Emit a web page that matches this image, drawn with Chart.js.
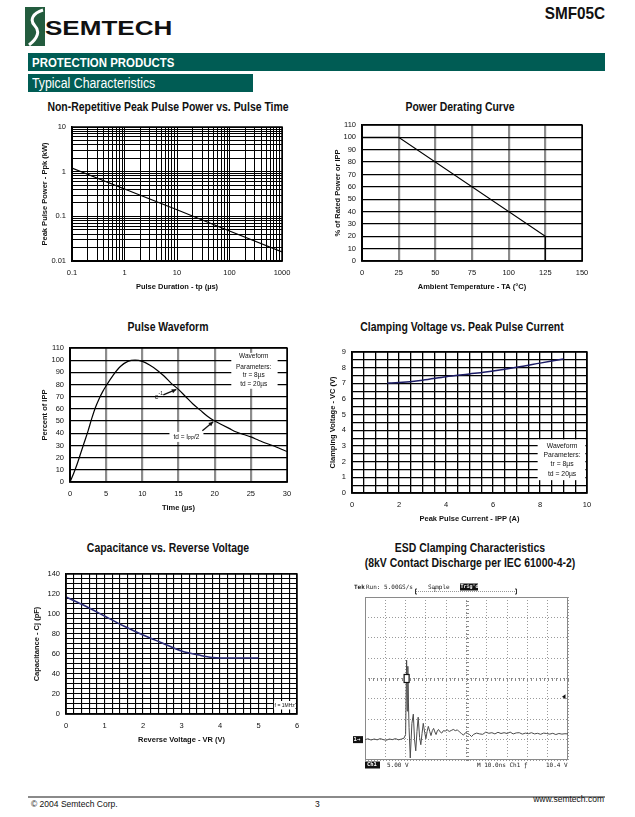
<!DOCTYPE html>
<html>
<head>
<meta charset="utf-8">
<title>SMF05C Typical Characteristics</title>
<script src="https://cdn.jsdelivr.net/npm/chart.js@4.4.1/dist/chart.umd.min.js"></script>
<style>
  body { margin: 0; background: #fff; }
  #page { position: relative; width: 635px; height: 817px; overflow: hidden; font-family: "Liberation Sans", Arial, sans-serif; color: #111; }
  #page canvas { position: absolute; }
  .t { position: absolute; white-space: nowrap; }
  .ctitle { position: absolute; white-space: nowrap; transform: translate(-50%, -50%) scaleX(0.87); font: bold 12px "Liberation Sans", Arial, sans-serif; color: #111; }
  .bar { position: absolute; background: #005c54; color: #fff; white-space: nowrap; }
  .bar span { position: absolute; transform-origin: left center; transform: scaleX(0.88); font-family: "Liberation Sans", Arial, sans-serif; }
</style>
</head>
<body>
<div id="page">
  <svg class="t" style="left:25px;top:7px" width="20" height="39" viewBox="0 0 20 39">
    <rect width="20" height="39" fill="#235c3e"/>
    <path d="M18 3 C8 6 4 13 10 19 C15 24 13 31 4 38" stroke="#fff" stroke-width="3" fill="none"/>
  </svg>
  <div class="t" style="left:45px;top:16px;font:bold 21px 'Liberation Sans',Arial;transform:scaleX(1.24);transform-origin:left top;">SEMTECH</div>
  <div class="t" style="right:30px;top:4px;font:bold 17px 'Liberation Sans',Arial;transform:scaleX(0.9);transform-origin:right top;">SMF05C</div>
  <div class="bar" style="left:28px;top:53px;width:577px;height:18px;"><span style="left:4px;top:2px;font-weight:bold;font-size:13px;">PROTECTION PRODUCTS</span></div>
  <div class="bar" style="left:28px;top:74px;width:225px;height:18px;"><span style="left:4px;top:1px;font-size:14px;">Typical Characteristics</span></div>

  <div class="ctitle" style="left:168px;top:107px">Non-Repetitive Peak Pulse Power vs. Pulse Time</div>
  <div class="ctitle" style="left:460px;top:107px">Power Derating Curve</div>
  <div class="ctitle" style="left:168px;top:327px">Pulse Waveform</div>
  <div class="ctitle" style="left:462px;top:327px">Clamping Voltage vs. Peak Pulse Current</div>
  <div class="ctitle" style="left:168px;top:548px">Capacitance vs. Reverse Voltage</div>
  <div class="ctitle" style="left:470px;top:548px">ESD Clamping Characteristics</div>
  <div class="ctitle" style="left:470px;top:563px">(8kV Contact Discharge per IEC 61000-4-2)</div>

  <canvas id="power"></canvas>
  <canvas id="derate"></canvas>
  <canvas id="pulse"></canvas>
  <canvas id="clamp"></canvas>
  <canvas id="cap"></canvas>
  <canvas id="esd"></canvas>

  <div style="position:absolute;left:28px;top:796px;width:577px;height:2px;background:#8a8a8a"></div>
  <div class="t" style="left:31px;top:799px;font-size:8.5px">© 2004 Semtech Corp.</div>
  <div class="t" style="left:315px;top:799px;font-size:8.5px">3</div>
  <div class="t" style="right:31px;top:794px;font-size:8.5px">www.semtech.com</div>
</div>
<script>
// Non-repetitive peak pulse power vs pulse time
const powerDuration = [0.1, 1, 10, 100, 1000];
const powerPeak = [1.2, 0.41, 0.14, 0.047, 0.016];
const powerXLabels = [0.1, 1, 10, 100, 1000];
const powerYLabels = [0.01, 0.1, 1, 10];

// Power derating curve
const derateTemp = [0, 25, 125, 125];
const deratePct = [100, 100, 20, 0];
const derateXLabels = [0, 25, 50, 75, 100, 125, 150];
const derateYLabels = [0, 10, 20, 30, 40, 50, 60, 70, 80, 90, 100, 110];

// Pulse waveform
const pulseTime = [0, 0.5, 1, 1.5, 2, 2.5, 3, 3.5, 4, 4.5, 5, 6, 7, 8, 9, 10, 11, 12, 13, 14, 15, 16, 17, 18, 19, 20, 21, 22, 23, 24, 25, 26, 27, 28, 29, 30];
const pulsePct = [0, 7, 15, 24, 33, 42, 52, 61, 68, 74, 79, 88, 95, 99, 100, 99, 96, 92, 87, 81, 76, 70, 64, 59, 54, 50, 47, 44, 41, 39, 37, 34.5, 32, 30, 27.5, 25];
const pulseXLabels = [0, 5, 10, 15, 20, 25, 30];
const pulseYLabels = [0, 10, 20, 30, 40, 50, 60, 70, 80, 90, 100, 110];

// Clamping voltage vs peak pulse current
const clampCurrent = [1.5, 2, 3, 4, 5, 6, 7, 8, 9];
const clampVolt = [7.02, 7.05, 7.2, 7.42, 7.6, 7.79, 8.02, 8.29, 8.56];
const clampXLabels = [0, 2, 4, 6, 8, 10];
const clampYLabels = [0, 1, 2, 3, 4, 5, 6, 7, 8, 9];

// Capacitance vs reverse voltage
const capVolt = [0, 0.5, 1, 1.5, 2, 2.5, 3, 3.5, 3.8, 4, 4.5, 5];
const capPF = [117, 108, 98, 88, 79, 71, 63, 58.5, 56.5, 56, 56, 56];
const capXLabels = [0, 1, 2, 3, 4, 5, 6];
const capYLabels = [0, 20, 40, 60, 80, 100, 120, 140];

// ESD scope trace (divisions)
const esdTime = [0, 0.15, 0.3, 0.45, 0.6, 0.75, 0.9, 1.05, 1.2, 1.35, 1.5, 1.65, 1.8, 1.92, 2.0, 2.05, 2.08, 2.11, 2.14, 2.17, 2.23, 2.31, 2.38, 2.44, 2.5, 2.56, 2.62, 2.69, 2.75, 2.81, 2.87, 2.94, 3.0, 3.06, 3.12, 3.19, 3.25, 3.32, 3.38, 3.44, 3.5, 3.56, 3.62, 3.7, 3.78, 3.86, 3.95, 4.05, 4.15, 4.25, 4.35, 4.45, 4.55, 4.65, 4.75, 4.85, 4.95, 5.05, 5.15, 5.25, 5.35, 5.5, 5.65, 5.8, 5.95, 6.1, 6.25, 6.4, 6.55, 6.7, 6.85, 7.0, 7.15, 7.3, 7.45, 7.6, 7.75, 7.9, 8.05, 8.2, 8.35, 8.5, 8.65, 8.8, 8.95, 9.1, 9.25, 9.4, 9.55, 9.7, 9.85, 10];
const esdLevel = [-3.0, -2.96, -3.02, -2.97, -3.01, -2.95, -3.0, -3.03, -2.97, -3.0, -2.95, -3.01, -2.97, -2.93, -2.75, 0.9, -1.6, 0.6, -1.2, -2.4, -3.9, -2.2, -1.75, -3.0, -3.55, -2.6, -1.9, -2.9, -3.25, -2.7, -2.2, -2.65, -2.95, -2.6, -2.35, -2.6, -2.8, -2.55, -2.45, -2.62, -2.75, -2.58, -2.5, -2.62, -2.68, -2.56, -2.58, -2.52, -2.6, -2.55, -2.5, -2.56, -2.52, -2.62, -2.7, -2.78, -2.66, -2.7, -2.75, -2.85, -2.74, -2.68, -2.72, -2.74, -2.63, -2.69, -2.66, -2.72, -2.64, -2.7, -2.66, -2.7, -2.63, -2.72, -2.67, -2.66, -2.73, -2.68, -2.71, -2.66, -2.72, -2.69, -2.74, -2.68, -2.7, -2.73, -2.69, -2.75, -2.7, -2.73, -2.71, -2.72];

const sans = "'Liberation Sans', Arial, sans-serif";
const tickFont = { family: sans, size: 7.5 };
const axisFont = { family: sans, size: 7.5, weight: 'bold' };

function xy(xs, ys) {
    return xs.map((x, i) => ({ x: x, y: ys[i] }));
}

function steps(lo, hi, step) {
    const out = [];
    const n = Math.round((hi - lo) / step);
    for (let i = 0; i <= n; i++) out.push(Math.round((lo + i * step) * 1000) / 1000);
    return out;
}

function logSteps(lo, hi) {
    const out = [];
    for (let e = Math.round(Math.log10(lo)); Math.pow(10, e) < hi; e++) {
        for (let m = 1; m < 10; m++) out.push(+(m * Math.pow(10, e)).toPrecision(3));
    }
    out.push(hi);
    return out;
}

// canvas placed so that its plot area lands on plot = [left, top, right, bottom]
function frame(id, plot, yWidth, xHeight, padTop, padRight) {
    padTop = padTop || 8;
    padRight = padRight || 14;
    const left = plot[0] - yWidth, top = plot[1] - padTop;
    const c = document.getElementById(id);
    c.width = plot[2] + padRight - left;
    c.height = plot[3] + xHeight - top;
    c.style.left = left + 'px';
    c.style.top = top + 'px';
    return { canvas: c, padding: { left: 0, top: padTop, right: padRight, bottom: 0 }, yWidth: yWidth, xHeight: xHeight };
}

function axis(f, isX, o) {
    return {
        type: o.type || 'linear',
        min: o.min,
        max: o.max,
        afterBuildTicks: s => { s.ticks = o.grid.map(v => ({ value: v })); },
        afterFit: s => {
            if (isX) s.height = f.xHeight; else s.width = f.yWidth;
            s.paddingLeft = s.paddingRight = s.paddingTop = s.paddingBottom = 0;
        },
        ticks: {
            display: !!o.labels,
            autoSkip: false,
            maxRotation: 0,
            padding: isX ? 7.5 : 6,
            font: tickFont,
            color: '#111',
            callback: v => (o.labels && o.labels.includes(v)) ? String(v) : ''
        },
        grid: { drawTicks: false, color: o.gridColor || '#000', lineWidth: o.gridWidth || 1 },
        border: o.border || { color: '#000', width: 1.5 },
        title: o.title ? {
            display: true, text: o.title, font: axisFont, color: '#111',
            padding: isX ? { top: 0, bottom: 2.8 } : { top: 2.8, bottom: 0 }
        } : { display: false }
    };
}

function options(f, xScale, yScale) {
    return {
        responsive: false,
        animation: false,
        events: [],
        layout: { padding: f.padding, autoPadding: false },
        plugins: { legend: { display: false }, tooltip: { enabled: false } },
        scales: { x: xScale, y: yScale }
    };
}

function line(points, color, width, smooth) {
    return {
        data: points,
        borderColor: color,
        borderWidth: width,
        pointRadius: 0,
        fill: false,
        cubicInterpolationMode: smooth ? 'monotone' : 'default',
        tension: 0
    };
}

const boxFrame = {
    id: 'boxFrame',
    afterDatasetsDraw(chart) {
        const { ctx, chartArea: a } = chart;
        ctx.save();
        ctx.strokeStyle = '#000';
        ctx.lineWidth = 1.5;
        ctx.strokeRect(a.left, a.top, a.right - a.left, a.bottom - a.top);
        ctx.restore();
    }
};

function arrow(ctx, x1, y1, x2, y2) {
    ctx.beginPath();
    ctx.moveTo(x1, y1);
    ctx.lineTo(x2, y2);
    ctx.lineWidth = 1.3;
    ctx.stroke();
    const a = Math.atan2(y2 - y1, x2 - x1), L = 5;
    ctx.beginPath();
    ctx.moveTo(x2, y2);
    ctx.lineTo(x2 - L * Math.cos(a - 0.45), y2 - L * Math.sin(a - 0.45));
    ctx.lineTo(x2 - L * Math.cos(a + 0.45), y2 - L * Math.sin(a + 0.45));
    ctx.closePath();
    ctx.fill();
}

// white note box with centred lines, positions given in data units
function noteBox(chart, box, cx, rows, size) {
    const { ctx, scales: { x, y } } = chart;
    const x0 = x.getPixelForValue(box[0]), x1 = x.getPixelForValue(box[1]);
    const y0 = y.getPixelForValue(box[2]), y1 = y.getPixelForValue(box[3]);
    ctx.save();
    ctx.fillStyle = '#fff';
    ctx.fillRect(x0, y0, x1 - x0, y1 - y0);
    ctx.fillStyle = '#111';
    ctx.font = size + "px " + sans;
    ctx.textAlign = 'center';
    ctx.textBaseline = 'middle';
    rows.forEach(r => ctx.fillText(r[0], x.getPixelForValue(cx), y.getPixelForValue(r[1])));
    ctx.restore();
}

const gridGray = ctx => (ctx.tick && ctx.index > 0 && ctx.index < ctx.scale.ticks.length - 1) ? '#8c8c8c' : '#000';
const gridGrayWidth = ctx => (ctx.tick && ctx.index > 0 && ctx.index < ctx.scale.ticks.length - 1) ? 2.2 : 1;

// 1. peak pulse power
(function () {
    const f = frame('power', [72, 127, 282, 261], 34, 33);
    new Chart(f.canvas, {
        type: 'line',
        data: { datasets: [line(xy(powerDuration, powerPeak), '#000', 1.2)] },
        options: options(f,
            axis(f, true, { type: 'logarithmic', min: 0.1, max: 1000, grid: logSteps(0.1, 1000), labels: powerXLabels, title: 'Pulse Duration - tp (µs)' }),
            axis(f, false, { type: 'logarithmic', min: 0.01, max: 10, grid: logSteps(0.01, 10), labels: powerYLabels, title: 'Peak Pulse Power - Ppk (kW)' })),
        plugins: [boxFrame]
    });
})();

// 2. power derating
(function () {
    const f = frame('derate', [362, 125, 582, 261], 31, 33);
    new Chart(f.canvas, {
        type: 'line',
        data: { datasets: [line(xy(derateTemp, deratePct), '#000', 1.2)] },
        options: options(f,
            axis(f, true, { min: 0, max: 150, grid: steps(0, 150, 25), labels: derateXLabels, title: 'Ambient Temperature - TA (°C)', gridColor: gridGray, gridWidth: gridGrayWidth }),
            axis(f, false, { min: 0, max: 110, grid: steps(0, 110, 10), labels: derateYLabels, title: '% of Rated Power or IPP', gridWidth: 1.3 })),
        plugins: [boxFrame]
    });
})();

// 3. pulse waveform
(function () {
    const f = frame('pulse', [70, 348, 287, 482], 32, 33);
    const notes = {
        id: 'pulseNotes',
        afterDatasetsDraw(chart) {
            noteBox(chart, [22.3, 28.7, 106, 76.5], 25.4,
                [['Waveform', 103], ['Parameters:', 94.5], ['tr = 8µs', 87.3], ['td = 20µs', 80]], 6.5);
            const { ctx, scales: { x, y } } = chart;
            ctx.save();
            ctx.fillStyle = '#111';
            ctx.strokeStyle = '#111';
            ctx.font = "7px " + sans;
            ctx.textBaseline = 'middle';
            ctx.textAlign = 'center';
            ctx.fillText('e', x.getPixelForValue(12.0), y.getPixelForValue(69.5));
            ctx.font = "5px " + sans;
            ctx.fillText('-1', x.getPixelForValue(12.55), y.getPixelForValue(72.5));
            arrow(ctx, x.getPixelForValue(12.9), y.getPixelForValue(71.5), x.getPixelForValue(14.7), y.getPixelForValue(76));
            // td label with white background
            const tx = x.getPixelForValue(16.1), ty = y.getPixelForValue(37);
            ctx.fillStyle = '#fff';
            ctx.fillRect(tx - 17, ty - 5, 34, 10);
            ctx.fillStyle = '#111';
            ctx.textAlign = 'left';
            ctx.font = "6.5px " + sans;
            const a = 'td = I';
            const w1 = ctx.measureText(a).width;
            ctx.font = "4.5px " + sans;
            const w2 = ctx.measureText('PP').width;
            ctx.font = "6.5px " + sans;
            const w3 = ctx.measureText('/2').width;
            const sx = tx - (w1 + w2 + w3) / 2;
            ctx.fillText(a, sx, ty);
            ctx.font = "4.5px " + sans;
            ctx.fillText('PP', sx + w1, ty + 2);
            ctx.font = "6.5px " + sans;
            ctx.fillText('/2', sx + w1 + w2, ty);
            arrow(ctx, x.getPixelForValue(18.3), y.getPixelForValue(42), x.getPixelForValue(19.8), y.getPixelForValue(49.5));
            ctx.restore();
        }
    };
    new Chart(f.canvas, {
        type: 'line',
        data: { datasets: [line(xy(pulseTime, pulsePct), '#000', 1.2, true)] },
        options: options(f,
            axis(f, true, { min: 0, max: 30, grid: steps(0, 30, 5), labels: pulseXLabels, title: 'Time (µs)', gridColor: gridGray, gridWidth: gridGrayWidth }),
            axis(f, false, { min: 0, max: 110, grid: steps(0, 110, 10), labels: pulseYLabels, title: 'Percent of IPP', gridWidth: 1.3 })),
        plugins: [notes, boxFrame]
    });
})();

// 4. clamping voltage
(function () {
    const f = frame('clamp', [352, 352, 587, 493], 26, 33);
    const notes = {
        id: 'clampNotes',
        afterDatasetsDraw(chart) {
            noteBox(chart, [7.9, 9.93, 3.42, 0.82], 8.94,
                [['Waveform', 3.0], ['Parameters:', 2.4], ['tr = 8µs', 1.82], ['td = 20µs', 1.2]], 6.8);
        }
    };
    new Chart(f.canvas, {
        type: 'line',
        data: { datasets: [line(xy(clampCurrent, clampVolt), '#1c1c66', 1.5, true)] },
        options: options(f,
            axis(f, true, { min: 0, max: 10, grid: steps(0, 10, 0.5), labels: clampXLabels, title: 'Peak Pulse Current - IPP (A)', gridWidth: 1.3 }),
            axis(f, false, { min: 0, max: 9, grid: steps(0, 9, 0.5), labels: clampYLabels, title: 'Clamping Voltage - VC (V)', gridWidth: 1.3 })),
        plugins: [notes, boxFrame]
    });
})();

// 5. capacitance
(function () {
    const f = frame('cap', [66, 574, 297, 714], 36, 33);
    const notes = {
        id: 'capNotes',
        afterDatasetsDraw(chart) {
            noteBox(chart, [5.4, 5.96, 13, 4.5], 5.68, [['f = 1MHz', 8.8]], 5);
        }
    };
    new Chart(f.canvas, {
        type: 'line',
        data: { datasets: [line(xy(capVolt, capPF), '#2a2a78', 1.5, true)] },
        options: options(f,
            axis(f, true, { min: 0, max: 6, grid: steps(0, 6, 0.2), labels: capXLabels, title: 'Reverse Voltage - VR (V)', gridWidth: 1.1 }),
            axis(f, false, { min: 0, max: 140, grid: steps(0, 140, 5), labels: capYLabels, title: 'Capacitance - Cj (pF)', gridWidth: 1.1 })),
        plugins: [notes, boxFrame]
    });
})();

// 6. ESD scope capture
(function () {
    const f = frame('esd', [365, 597, 568, 760], 20, 18, 19, 37);
    const mono = "'DejaVu Sans Mono', 'Liberation Mono', monospace";
    const deco = {
        id: 'scopeDeco',
        beforeDatasetsDraw(chart) {
            const { ctx, chartArea: a, scales: { x, y } } = chart;
            ctx.save();
            ctx.strokeStyle = '#8a8a8a';
            ctx.lineWidth = 1;
            ctx.strokeRect(a.left + 0.5, a.top + 0.5, a.right - a.left - 1, a.bottom - a.top - 1);
            const cx = Math.round(x.getPixelForValue(5)) + 0.5, cy = Math.round(y.getPixelForValue(0)) + 0.5;
            ctx.strokeStyle = '#888';
            ctx.beginPath();
            for (let i = 0; i <= 50; i++) {
                const px = Math.round(x.getPixelForValue(i * 0.2)) + 0.5;
                ctx.moveTo(px, cy - 1.5); ctx.lineTo(px, cy + 1.5);
            }
            for (let i = 0; i <= 40; i++) {
                const py = Math.round(y.getPixelForValue(-4 + i * 0.2)) + 0.5;
                ctx.moveTo(cx - 1.5, py); ctx.lineTo(cx + 1.5, py);
            }
            ctx.stroke();
            ctx.restore();
        },
        afterDatasetsDraw(chart) {
            const { ctx, chartArea: a, scales: { x, y } } = chart;
            ctx.save();
            ctx.textBaseline = 'middle';
            ctx.textAlign = 'left';
            const ty = a.top - 10, by = a.bottom + 5;
            ctx.fillStyle = '#222';
            ctx.font = "bold 6px " + mono;
            ctx.fillText('Tek', a.left - 11, ty);
            ctx.font = "6px " + mono;
            ctx.fillText('Run: 5.00GS/s', a.left + 1, ty);
            ctx.fillText('Sample', a.left + 63, ty);
            ctx.fillStyle = '#111';
            ctx.fillRect(a.left + 95, ty - 3.5, 18, 7);
            ctx.fillStyle = '#fff';
            ctx.font = "bold 5px " + mono;
            ctx.fillText("Trig'd", a.left + 95.5, ty);
            // record bracket
            ctx.strokeStyle = '#999';
            ctx.lineWidth = 1;
            ctx.setLineDash([1, 1]);
            ctx.beginPath();
            ctx.moveTo(a.left + 51, a.top - 5.5); ctx.lineTo(a.left + 151, a.top - 5.5);
            ctx.stroke();
            ctx.setLineDash([]);
            ctx.strokeStyle = '#333';
            ctx.beginPath();
            ctx.moveTo(a.left + 52, a.top - 8); ctx.lineTo(a.left + 50.5, a.top - 8); ctx.lineTo(a.left + 50.5, a.top - 3); ctx.lineTo(a.left + 52, a.top - 3);
            ctx.moveTo(a.left + 150, a.top - 8); ctx.lineTo(a.left + 151.5, a.top - 8); ctx.lineTo(a.left + 151.5, a.top - 3); ctx.lineTo(a.left + 150, a.top - 3);
            ctx.stroke();
            ctx.fillStyle = '#333';
            ctx.font = "5.5px " + mono;
            ctx.textAlign = 'center';
            ctx.fillText('T', a.left + 70, a.top - 6);
            // bottom readout
            ctx.textAlign = 'left';
            ctx.fillStyle = '#111';
            ctx.fillRect(a.left, by - 3.5, 15, 7);
            ctx.fillStyle = '#fff';
            ctx.font = "bold 5.5px " + mono;
            ctx.fillText('Ch1', a.left + 2, by);
            ctx.fillStyle = '#222';
            ctx.font = "6px " + mono;
            ctx.fillText('5.00 V', a.left + 22, by);
            ctx.fillText('M 10.0ns Ch1 \u0192', a.left + 112, by);
            ctx.fillText('10.4 V', a.left + 181, by);
            // channel ground marker
            const gy = y.getPixelForValue(-3);
            ctx.fillStyle = '#111';
            ctx.fillRect(a.left - 12, gy - 3.5, 10, 7);
            ctx.fillStyle = '#fff';
            ctx.font = "bold 5.5px " + mono;
            ctx.fillText('1', a.left - 11.5, gy);
            ctx.fillText('\u2192', a.left - 8, gy);
            // trigger position marker
            const mx = x.getPixelForValue(2.05), my = y.getPixelForValue(0);
            ctx.fillStyle = '#fff';
            ctx.fillRect(mx - 2.5, my - 4, 5, 8);
            ctx.strokeStyle = '#111';
            ctx.lineWidth = 1.2;
            ctx.strokeRect(mx - 2.5, my - 4, 5, 8);
            // trigger level marker
            const ly = y.getPixelForValue(-0.9);
            ctx.fillStyle = '#111';
            ctx.beginPath();
            ctx.moveTo(a.right - 6, ly); ctx.lineTo(a.right - 2.5, ly - 2.5); ctx.lineTo(a.right - 2.5, ly + 2.5);
            ctx.closePath();
            ctx.fill();
            ctx.restore();
        }
    };
    const dotted = { display: false, dash: [1, 2] };
    new Chart(f.canvas, {
        type: 'line',
        data: { datasets: [line(xy(esdTime, esdLevel), '#4a4a4a', 1)] },
        options: options(f,
            axis(f, true, { min: 0, max: 10, grid: steps(0, 10, 1), labels: null, gridColor: '#9a9a9a', border: dotted }),
            axis(f, false, { min: -4, max: 4, grid: steps(-4, 4, 1), labels: null, gridColor: '#9a9a9a', border: dotted })),
        plugins: [deco]
    });
})();
</script>
</body>
</html>
